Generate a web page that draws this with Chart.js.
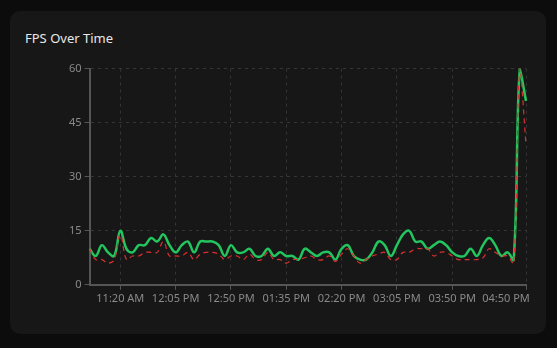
<!DOCTYPE html>
<html>
<head>
<meta charset="utf-8">
<script src="https://cdn.jsdelivr.net/npm/chart.js@4.4.0/dist/chart.umd.min.js"></script>
<style>
    body { margin: 0; background: #0c0c0c; width: 557px; height: 348px; overflow: hidden; font-family: "Noto Sans", sans-serif; }
    .card { position: absolute; left: 10px; top: 11px; width: 536px; height: 323px; background: #171717; border-radius: 10px; }
    .card h3 { position: absolute; left: 15px; top: 18px; margin: 0; font-size: 13px; font-weight: 400; color: #e8e8e8; }
    .chart-box { position: absolute; left: 56px; top: 48px; width: 472px; height: 248px; }
</style>
</head>
<body>
<div class="card">
    <h3>FPS Over Time</h3>
    <div class="chart-box"><canvas id="fpsChart"></canvas></div>
</div>
<script>
// === Data ===
const timeLabels = [
    '10:55 AM', '11:00 AM', '11:05 AM', '11:10 AM', '11:15 AM', '11:20 AM', '11:25 AM', '11:30 AM', '11:35 AM', '11:40 AM',
    '11:45 AM', '11:50 AM', '11:55 AM', '12:00 PM', '12:05 PM', '12:10 PM', '12:15 PM', '12:20 PM', '12:25 PM', '12:30 PM',
    '12:35 PM', '12:40 PM', '12:45 PM', '12:50 PM', '12:55 PM', '01:00 PM', '01:05 PM', '01:10 PM', '01:15 PM', '01:20 PM',
    '01:25 PM', '01:30 PM', '01:35 PM', '01:40 PM', '01:45 PM', '01:50 PM', '01:55 PM', '02:00 PM', '02:05 PM', '02:10 PM',
    '02:15 PM', '02:20 PM', '02:25 PM', '02:30 PM', '02:35 PM', '02:40 PM', '02:45 PM', '02:50 PM', '02:55 PM', '03:00 PM',
    '03:05 PM', '03:10 PM', '03:15 PM', '03:20 PM', '03:25 PM', '03:30 PM', '03:35 PM', '03:40 PM', '03:45 PM', '03:50 PM',
    '03:55 PM', '04:00 PM', '04:05 PM', '04:10 PM', '04:15 PM', '04:20 PM', '04:25 PM', '04:30 PM', '04:35 PM', '04:40 PM',
    '04:45 PM', '04:50 PM'
];

// labels that get a tick + grid line on the x axis
const shownTicks = ['11:20 AM', '12:05 PM', '12:50 PM', '01:35 PM', '02:20 PM', '03:05 PM', '03:50 PM', '04:50 PM'];

const avgFps = [
    10, 8, 11, 9, 8, 15, 10, 9, 11, 11,
    13, 12, 14, 11, 9, 11, 12, 9, 12, 12,
    12, 11, 8, 11, 9, 9, 10, 8, 8, 10,
    8, 9, 8, 8, 7, 10, 9, 8, 9, 9,
    7, 10, 11, 8, 7, 7, 9, 12, 11, 8,
    11, 14, 15, 12, 12, 10, 11, 12, 11, 9,
    8, 8, 10, 8, 11, 13, 11, 8, 9, 7,
    60, 51
];

const lowFps = [
    10, 7, 7, 6, 7, 14, 7, 8, 8, 9,
    9, 9, 12, 8, 8, 8, 9, 7, 8.5, 9,
    9, 8.5, 7, 8, 8, 7, 8.5, 7, 7, 9,
    7, 7, 6, 7, 7, 7.5, 8, 7, 7, 8,
    6.5, 8.5, 10, 8, 6, 7, 8, 8.5, 9, 7,
    7, 9, 9, 10, 10, 10, 8, 9, 9, 8,
    7, 7, 7, 7, 7.5, 10, 9, 8, 8, 6,
    60, 39
];

const yTicks = [0, 15, 30, 45, 60];

// === Chart ===
const axisText = { color: '#8a8a8a', font: { family: 'Noto Sans', size: 11 } };

new Chart(document.getElementById('fpsChart').getContext('2d'), {
    type: 'line',
    data: {
        labels: timeLabels,
        datasets: [
            {
                label: 'Average FPS',
                data: avgFps,
                borderColor: '#22c55e',
                borderWidth: 2.5,
                tension: 0.4,
                pointRadius: 0,
                fill: false,
                order: 2
            },
            {
                label: '1% Low FPS',
                data: lowFps,
                borderColor: '#dc2f2f',
                borderWidth: 1.2,
                borderDash: [5, 4],
                tension: 0.4,
                pointRadius: 0,
                fill: false,
                order: 1
            }
        ]
    },
    options: {
        responsive: true,
        maintainAspectRatio: false,
        animation: false,
        layout: { padding: { right: 12 } },
        plugins: {
            legend: { display: false },
            tooltip: { enabled: false }
        },
        scales: {
            x: {
                afterFit: scale => { scale.paddingRight = 0; },
                ticks: {
                    ...axisText,
                    autoSkip: false,
                    maxRotation: 0,
                    padding: 2,
                    callback: function (value, index) {
                        const lbl = this.getLabelForValue(value);
                        if (!shownTicks.includes(lbl)) return null;
                        // last label sits inside the plot edge
                        return index === timeLabels.length - 1 ? lbl + '              ' : lbl;
                    }
                },
                grid: { color: '#353535', tickColor: '#555', tickLength: 5 },
                border: { color: '#555', width: 2, dash: [3, 4] }
            },
            y: {
                min: yTicks[0],
                max: yTicks[yTicks.length - 1],
                afterBuildTicks: scale => { scale.ticks = yTicks.map(v => ({ value: v })); },
                ticks: { ...axisText, padding: 3 },
                grid: { color: '#353535', tickColor: '#555', tickLength: 5 },
                border: { color: '#555', width: 2, dash: [3, 4] }
            }
        }
    }
});
</script>
</body>
</html>
